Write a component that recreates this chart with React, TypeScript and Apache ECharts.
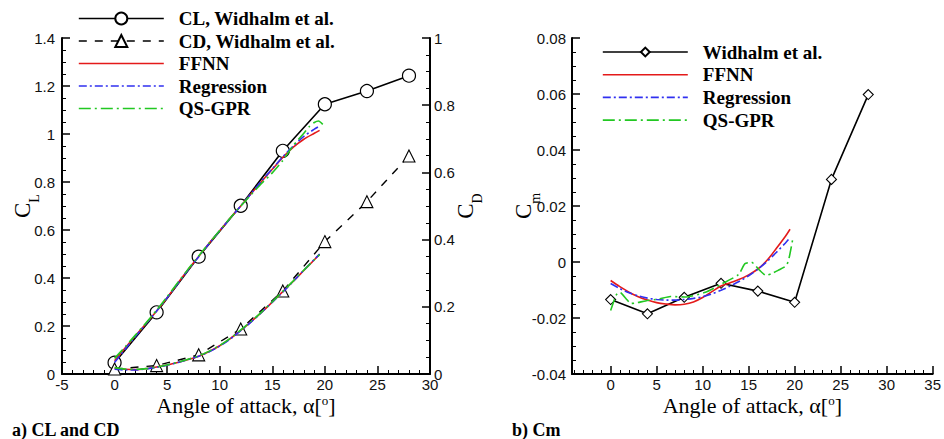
import React, { useEffect, useRef } from "react";
import * as echarts from "echarts";

// ---------- data ----------
const WIDHALM_ALPHA = [0, 4, 8, 12, 16, 20, 24, 28];
const CL_WIDHALM = [0.047, 0.257, 0.489, 0.701, 0.93, 1.124, 1.179, 1.243];
const CD_WIDHALM = [0.015, 0.025, 0.057, 0.134, 0.247, 0.394, 0.513, 0.649];
const CM_WIDHALM = [-0.0134, -0.0185, -0.0126, -0.0076, -0.0104, -0.0144, 0.0295, 0.0598];

const MODEL_ALPHA = [0, 1, 2, 3, 4, 5, 6, 7, 8, 9, 10, 11, 12, 13, 14, 15, 16, 17, 18, 19, 19.5];

const CL_FFNN = [0.055, 0.108, 0.16, 0.21, 0.262, 0.318, 0.377, 0.435, 0.49, 0.545, 0.597, 0.65, 0.7, 0.752, 0.803, 0.853, 0.902, 0.945, 0.978, 1.003, 1.015];
const CL_REG = [0.048, 0.103, 0.157, 0.21, 0.262, 0.318, 0.376, 0.434, 0.489, 0.544, 0.597, 0.649, 0.7, 0.752, 0.805, 0.855, 0.905, 0.95, 0.99, 1.02, 1.033];
const CL_GPR_ALPHA = [0, 1, 2, 3, 4, 5, 6, 7, 8, 9, 10, 11, 12, 13, 14, 15, 16, 17, 18, 18.5, 19, 19.4, 19.8];
const CL_GPR = [0.065, 0.113, 0.163, 0.213, 0.266, 0.322, 0.38, 0.437, 0.492, 0.546, 0.598, 0.65, 0.7, 0.748, 0.795, 0.838, 0.89, 0.952, 1.003, 1.03, 1.048, 1.054, 1.04];

const CD_FFNN = [0.017, 0.014, 0.013, 0.016, 0.021, 0.027, 0.034, 0.043, 0.053, 0.067, 0.084, 0.105, 0.13, 0.156, 0.184, 0.214, 0.245, 0.276, 0.308, 0.34, 0.356];
const CD_REG = [0.014, 0.012, 0.012, 0.015, 0.02, 0.026, 0.034, 0.043, 0.053, 0.066, 0.083, 0.104, 0.129, 0.155, 0.184, 0.214, 0.244, 0.276, 0.309, 0.341, 0.357];
const CD_GPR = [0.019, 0.015, 0.014, 0.016, 0.021, 0.027, 0.035, 0.044, 0.054, 0.068, 0.085, 0.106, 0.131, 0.157, 0.185, 0.215, 0.246, 0.277, 0.309, 0.34, 0.355];

const CM_FFNN = [-0.0066, -0.0088, -0.0108, -0.0124, -0.0136, -0.0145, -0.015, -0.0153, -0.0151, -0.0143, -0.0127, -0.0106, -0.0086, -0.0074, -0.0062, -0.0046, -0.0025, 0.0006, 0.0048, 0.0092, 0.0117];
const CM_REG = [-0.0077, -0.0095, -0.011, -0.0121, -0.0129, -0.0134, -0.0136, -0.0136, -0.0134, -0.013, -0.0124, -0.0114, -0.0101, -0.0086, -0.0069, -0.0049, -0.0026, 0.0002, 0.0034, 0.0068, 0.0087];
const CM_GPR_ALPHA = [0, 0.25, 0.6, 1.0, 1.7, 2.2, 2.8, 3.8, 5.3, 6.5, 8.1, 10.3, 12.1, 13.9, 14.6, 15.3, 16.2, 16.9, 17.6, 18.2, 19.1, 19.4, 19.8];
const CM_GPR = [-0.0173, -0.0149, -0.0118, -0.0108, -0.0132, -0.0148, -0.0146, -0.0139, -0.0132, -0.0123, -0.0125, -0.0108, -0.0078, -0.0045, -0.0006, -0.0001, -0.003, -0.0048, -0.004, -0.003, -0.0013, 0.0015, 0.0083];

const X_TICKS_A = [-5, 0, 5, 10, 15, 20, 25, 30];
const X_TICKS_B = [0, 5, 10, 15, 20, 25, 30, 35];
const X_MINOR_B = [-4, -3, -2, -1, 1, 2, 3, 4, 6, 7, 8, 9, 11, 12, 13, 14, 16, 17, 18, 19, 21, 22, 23, 24, 26, 27, 28, 29, 31, 32, 33, 34];

const LEGEND_A = ["CL, Widhalm et al.", "CD, Widhalm et al.", "FFNN", "Regression", "QS-GPR"];
const LEGEND_B = ["Widhalm et al.", "FFNN", "Regression", "QS-GPR"];

// ---------- styles ----------
const SERIF = '"Liberation Serif", "Times New Roman", serif';
const SANS = '"Liberation Sans", Arial, sans-serif';
const RED = "#e41a1a";
const BLUE = "#3030f0";
const GREEN = "#22c822";
const DASH_REG = [8, 3, 2, 3];
const DASH_GPR = [12, 4, 2, 4];
const DASH_CD = [8, 8];

const zip = (xs: number[], ys: number[]) => xs.map((x, i) => [x, ys[i]]);

const axisLine = { show: true, onZero: false, lineStyle: { color: "#000", width: 2 } };
const majorTick = { show: true, inside: true, length: 8, lineStyle: { color: "#000", width: 1.5 } };
const minorTick = (n: number) => ({ show: true, splitNumber: n, length: 4, lineStyle: { color: "#000", width: 1 } });
const tickLabel = { color: "#111", fontSize: 15, lineHeight: 15, fontFamily: SANS };

const xName = "{a|Angle of attack, α[}{s|o}{a|]}";
const xNameStyle = {
  rich: {
    a: { fontSize: 22, fontFamily: SERIF, color: "#000", lineHeight: 22, verticalAlign: "top" },
    s: { fontSize: 13, fontFamily: SERIF, color: "#000", lineHeight: 13, verticalAlign: "top" },
  },
};
const coefStyle = {
  rich: {
    c: { fontSize: 23, fontFamily: SERIF, color: "#000", lineHeight: 24, verticalAlign: "top" },
    s: { fontSize: 14, fontFamily: SERIF, color: "#000", lineHeight: 14, verticalAlign: "top", padding: [16, 0, 0, 0] },
  },
};

const modelLine = (
  name: string,
  data: number[][],
  color: string,
  type: any,
  xAxisIndex: number,
  yAxisIndex: number,
  smooth: number
) => ({
  name,
  type: "line",
  xAxisIndex,
  yAxisIndex,
  data,
  symbol: "none",
  smooth,
  lineStyle: { color, width: 1.6, type },
  itemStyle: { color },
  z: 3,
});

const legendText = {
  fontFamily: SERIF,
  fontWeight: "bold",
  fontSize: 19,
  lineHeight: 19,
  color: "#000",
  padding: [0, 0, 0, 10],
};

const legendItems = (names: string[]) =>
  names.map((n) =>
    n.indexOf("Widhalm") >= 0 ? { name: n } : { name: n, itemStyle: { opacity: 0 } }
  );

export default function App() {
  const ref = useRef<HTMLDivElement>(null);

  useEffect(() => {
    if (!ref.current) return;
    const chart = echarts.init(ref.current, undefined, { renderer: "svg" });
    const option: any = {
      animation: false,
      backgroundColor: "#fff",
      title: [
        { text: "a) CL and CD", left: 12, top: 421, padding: 0, textStyle: { fontFamily: SERIF, fontWeight: "bold", fontSize: 18, color: "#000" } },
        { text: "b) Cm", left: 512, top: 421, padding: 0, textStyle: { fontFamily: SERIF, fontWeight: "bold", fontSize: 18, color: "#000" } },
      ],
      legend: [
        {
          orient: "vertical",
          left: 78,
          top: 9,
          padding: 0,
          itemWidth: 85,
          itemHeight: 15,
          itemGap: 3.5,
          selectedMode: false,
          data: legendItems(LEGEND_A),
          textStyle: legendText,
          lineStyle: { width: 1.6 },
        },
        {
          orient: "vertical",
          left: 602,
          top: 42.5,
          padding: 0,
          itemWidth: 85,
          itemHeight: 11,
          itemGap: 3.7,
          selectedMode: false,
          data: legendItems(LEGEND_B),
          textStyle: legendText,
          lineStyle: { width: 1.6 },
        },
      ],
      grid: [
        { left: 62, top: 38, width: 368, height: 336, containLabel: false },
        { left: 572, top: 38, width: 365, height: 336, containLabel: false },
      ],
      xAxis: [
        {
          type: "value",
          gridIndex: 0,
          min: -5,
          max: 30,
          interval: 5,
          axisLine,
          axisTick: majorTick,
          minorTick: minorTick(5),
          splitLine: { show: false },
          axisLabel: { ...tickLabel, margin: 3, customValues: X_TICKS_A },
          name: xName,
          nameLocation: "middle",
          nameGap: 20,
          nameMoveOverlap: false,
          nameTextStyle: xNameStyle,
        },
        {
          type: "value",
          gridIndex: 1,
          position: "bottom",
          min: -4.2,
          max: 35,
          axisLine,
          axisTick: { ...majorTick, customValues: X_TICKS_B },
          splitLine: { show: false },
          axisLabel: { ...tickLabel, margin: 3, customValues: X_TICKS_B },
          name: xName,
          nameLocation: "middle",
          nameGap: 20,
          nameMoveOverlap: false,
          nameTextStyle: xNameStyle,
        },
        {
          type: "value",
          gridIndex: 1,
          position: "bottom",
          min: -4.2,
          max: 35,
          axisLine: { show: false, onZero: false },
          axisTick: { show: true, inside: true, length: 4, lineStyle: { color: "#000", width: 1 }, customValues: X_MINOR_B },
          splitLine: { show: false },
          axisLabel: { show: false },
        },
      ],
      yAxis: [
        {
          type: "value",
          gridIndex: 0,
          position: "left",
          min: 0,
          max: 1.4,
          interval: 0.2,
          axisLine,
          axisTick: majorTick,
          minorTick: minorTick(4),
          splitLine: { show: false },
          axisLabel: { ...tickLabel, margin: 7 },
          name: "{c|C}{s|L}",
          nameLocation: "middle",
          nameGap: 27,
          nameMoveOverlap: false,
          nameTextStyle: coefStyle,
        },
        {
          type: "value",
          gridIndex: 0,
          position: "right",
          min: 0,
          max: 1,
          interval: 0.2,
          axisLine,
          axisTick: majorTick,
          minorTick: minorTick(4),
          splitLine: { show: false },
          axisLabel: { ...tickLabel, margin: 4 },
          name: "{c|C}{s|D}",
          nameLocation: "middle",
          nameGap: 24,
          nameMoveOverlap: false,
          nameTextStyle: coefStyle,
        },
        {
          type: "value",
          gridIndex: 1,
          position: "left",
          min: -0.04,
          max: 0.08,
          interval: 0.02,
          axisLine,
          axisTick: majorTick,
          minorTick: minorTick(4),
          splitLine: { show: false },
          axisLabel: { ...tickLabel, margin: 6 },
          name: "{c|C}{s|m}",
          nameLocation: "middle",
          nameGap: 36,
          nameMoveOverlap: false,
          nameTextStyle: coefStyle,
        },
      ],
      series: [
        {
          name: "CL, Widhalm et al.",
          type: "line",
          xAxisIndex: 0,
          yAxisIndex: 0,
          data: zip(WIDHALM_ALPHA, CL_WIDHALM),
          symbol: "circle",
          symbolSize: 13,
          lineStyle: { color: "#000", width: 1.6 },
          itemStyle: { color: "#fff", borderColor: "#000", borderWidth: 1.2 },
          z: 2,
        },
        {
          name: "CD, Widhalm et al.",
          type: "line",
          xAxisIndex: 0,
          yAxisIndex: 1,
          data: zip(WIDHALM_ALPHA, CD_WIDHALM),
          symbol: "triangle",
          symbolSize: 12,
          lineStyle: { color: "#000", width: 1.4, type: DASH_CD },
          itemStyle: { color: "#fff", borderColor: "#000", borderWidth: 1.1 },
          z: 2,
        },
        modelLine("FFNN", zip(MODEL_ALPHA, CL_FFNN), RED, "solid", 0, 0, 0.3),
        modelLine("Regression", zip(MODEL_ALPHA, CL_REG), BLUE, DASH_REG, 0, 0, 0.3),
        modelLine("QS-GPR", zip(CL_GPR_ALPHA, CL_GPR), GREEN, DASH_GPR, 0, 0, 0.2),
        modelLine("FFNN", zip(MODEL_ALPHA, CD_FFNN), RED, "solid", 0, 1, 0.3),
        modelLine("Regression", zip(MODEL_ALPHA, CD_REG), BLUE, DASH_REG, 0, 1, 0.3),
        modelLine("QS-GPR", zip(MODEL_ALPHA, CD_GPR), GREEN, DASH_GPR, 0, 1, 0.3),
        {
          name: "Widhalm et al.",
          type: "line",
          xAxisIndex: 1,
          yAxisIndex: 2,
          data: zip(WIDHALM_ALPHA, CM_WIDHALM),
          symbol: "diamond",
          symbolSize: 10,
          lineStyle: { color: "#000", width: 1.6 },
          itemStyle: { color: "#fff", borderColor: "#000", borderWidth: 1.1 },
          z: 2,
        },
        modelLine("FFNN", zip(MODEL_ALPHA, CM_FFNN), RED, "solid", 1, 2, 0.3),
        modelLine("Regression", zip(MODEL_ALPHA, CM_REG), BLUE, DASH_REG, 1, 2, 0.3),
        modelLine("QS-GPR", zip(CM_GPR_ALPHA, CM_GPR), GREEN, DASH_GPR, 1, 2, 0.2),
      ],
    };
    chart.setOption(option);
    return () => chart.dispose();
  }, []);

  return (
    <div
      ref={ref}
      style={{ position: "fixed", left: 0, top: 0, width: 944, height: 439, background: "#fff" }}
    />
  );
}
